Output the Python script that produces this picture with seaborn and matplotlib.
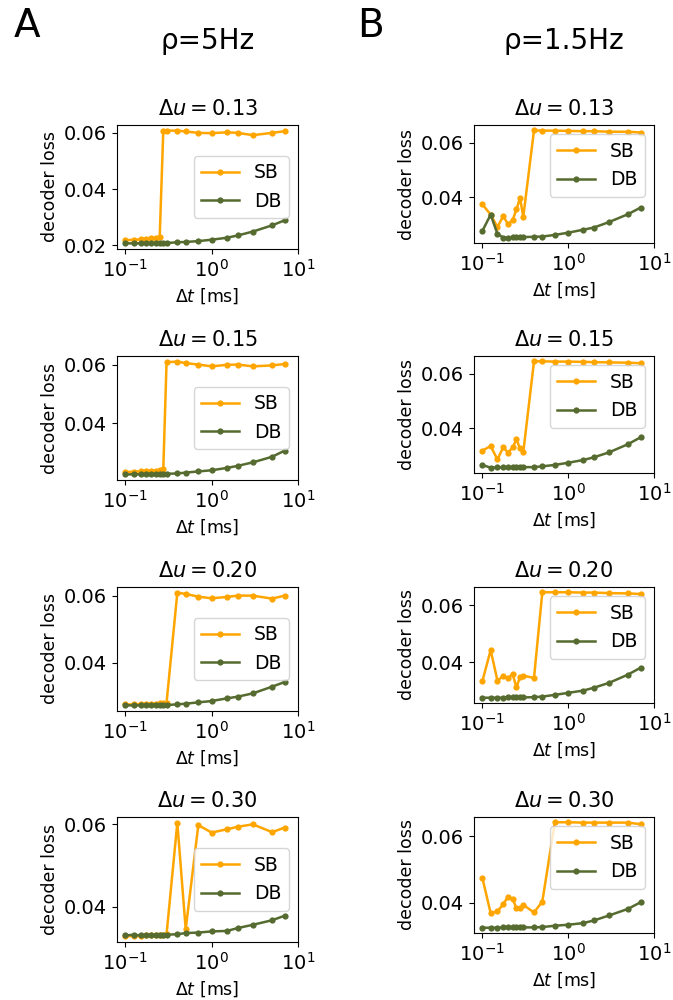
import numpy as np
import pandas as pd
import matplotlib
matplotlib.use("Agg")
from matplotlib import pyplot as plt
from matplotlib.ticker import MultipleLocator, NullLocator
import seaborn as sns

plt.rcParams["xtick.labelsize"] = 14
plt.rcParams["ytick.labelsize"] = 14
plt.rcParams["axes.labelsize"] = 12.5

# time steps (ms), shared by every panel
dt = [0.1, 0.125, 0.15, 0.175, 0.2, 0.225, 0.25, 0.275, 0.3,
      0.4, 0.5, 0.7, 1.0, 1.5, 2.0, 3.0, 5.0, 7.0]

du_labels = ["0.13", "0.15", "0.20", "0.30"]

# column A: rho = 5Hz
sb_a_013 = [0.0218, 0.0220, 0.0221, 0.0224, 0.0225, 0.0227, 0.0231, 0.0608, 0.0608,
            0.0608, 0.0605, 0.0600, 0.0599, 0.0602, 0.0600, 0.0592, 0.0600, 0.0606]
db_a_013 = [0.0207, 0.0207, 0.0207, 0.0207, 0.0208, 0.0208, 0.0208, 0.0208, 0.0208,
            0.0211, 0.0212, 0.0215, 0.0220, 0.0227, 0.0235, 0.0249, 0.0271, 0.0289]
sb_a_015 = [0.0234, 0.0235, 0.0236, 0.0237, 0.0238, 0.0239, 0.0241, 0.0243, 0.0609,
            0.0611, 0.0606, 0.0601, 0.0595, 0.0600, 0.0601, 0.0595, 0.0598, 0.0603]
db_a_015 = [0.0226, 0.0226, 0.0226, 0.0226, 0.0227, 0.0227, 0.0227, 0.0227, 0.0228,
            0.0229, 0.0232, 0.0236, 0.0240, 0.0248, 0.0255, 0.0267, 0.0286, 0.0307]
sb_a_020 = [0.0275, 0.0275, 0.0276, 0.0276, 0.0277, 0.0277, 0.0278, 0.0279, 0.0280,
            0.0610, 0.0606, 0.0598, 0.0593, 0.0597, 0.0601, 0.0601, 0.0592, 0.0601]
db_a_020 = [0.0272, 0.0272, 0.0272, 0.0272, 0.0273, 0.0273, 0.0273, 0.0273, 0.0273,
            0.0275, 0.0277, 0.0281, 0.0285, 0.0293, 0.0298, 0.0308, 0.0328, 0.0342]
sb_a_030 = [0.0328, 0.0329, 0.0329, 0.0330, 0.0330, 0.0331, 0.0332, 0.0332, 0.0333,
            0.0604, 0.0345, 0.0598, 0.0580, 0.0588, 0.0594, 0.0600, 0.0581, 0.0592]
db_a_030 = [0.0330, 0.0332, 0.0330, 0.0330, 0.0331, 0.0331, 0.0332, 0.0332, 0.0332,
            0.0333, 0.0336, 0.0337, 0.0340, 0.0341, 0.0348, 0.0356, 0.0367, 0.0378]

# column B: rho = 1.5Hz
sb_b_013 = [0.0375, 0.0337, 0.0292, 0.0331, 0.0302, 0.0317, 0.0356, 0.0398, 0.0329,
            0.0645, 0.0644, 0.0644, 0.0643, 0.0642, 0.0642, 0.0640, 0.0640, 0.0637]
db_b_013 = [0.0277, 0.0337, 0.0267, 0.0253, 0.0253, 0.0254, 0.0255, 0.0255, 0.0255,
            0.0256, 0.0257, 0.0263, 0.0271, 0.0282, 0.0290, 0.0310, 0.0339, 0.0363]
sb_b_015 = [0.0319, 0.0336, 0.0287, 0.0331, 0.0312, 0.0331, 0.0360, 0.0327, 0.0313,
            0.0645, 0.0645, 0.0644, 0.0644, 0.0643, 0.0642, 0.0641, 0.0640, 0.0638]
db_b_015 = [0.0267, 0.0257, 0.0258, 0.0258, 0.0258, 0.0259, 0.0259, 0.0259, 0.0259,
            0.0259, 0.0262, 0.0267, 0.0275, 0.0285, 0.0295, 0.0313, 0.0343, 0.0368]
sb_b_020 = [0.0334, 0.0443, 0.0337, 0.0352, 0.0346, 0.0360, 0.0313, 0.0350, 0.0354,
            0.0346, 0.0645, 0.0645, 0.0645, 0.0644, 0.0644, 0.0642, 0.0641, 0.0639]
db_b_020 = [0.0277, 0.0277, 0.0277, 0.0277, 0.0278, 0.0278, 0.0278, 0.0278, 0.0278,
            0.0279, 0.0281, 0.0287, 0.0294, 0.0302, 0.0312, 0.0329, 0.0358, 0.0382]
sb_b_030 = [0.0475, 0.0368, 0.0373, 0.0395, 0.0418, 0.0411, 0.0383, 0.0383, 0.0393,
            0.0370, 0.0403, 0.0642, 0.0642, 0.0641, 0.0641, 0.0641, 0.0641, 0.0636]
db_b_030 = [0.0324, 0.0324, 0.0324, 0.0325, 0.0325, 0.0325, 0.0325, 0.0325, 0.0325,
            0.0325, 0.0326, 0.0330, 0.0333, 0.0338, 0.0346, 0.0361, 0.0381, 0.0401]

col_a = [(sb_a_013, db_a_013), (sb_a_015, db_a_015), (sb_a_020, db_a_020), (sb_a_030, db_a_030)]
col_b = [(sb_b_013, db_b_013), (sb_b_015, db_b_015), (sb_b_020, db_b_020), (sb_b_030, db_b_030)]

W, H = 673, 1000
fig = plt.figure(figsize=(W / 100, H / 100), dpi=100)

# axes boxes in pixels
a_tops = [125, 356, 587, 817]
a_bottoms = [249, 480, 711, 942]
b_bottoms = [243, 473, 703, 933]


def make_axes(left, right, top, bottom):
    return fig.add_axes([left / W, 1 - bottom / H, (right - left) / W, (bottom - top) / H])


def draw_panel(ax, sb, db, du, loc):
    sns.lineplot(x=dt, y=sb, ax=ax, color="orange", marker="o", markersize=4.5,
                 markeredgewidth=0, linewidth=1.8, label="SB")
    sns.lineplot(x=dt, y=db, ax=ax, color="darkolivegreen", marker="o", markersize=4.5,
                 markeredgewidth=0, linewidth=1.8, label="DB")
    ax.set_xscale("log")
    ax.set_xlim(0.08, 10)
    ax.xaxis.set_minor_locator(NullLocator())
    ax.yaxis.set_major_locator(MultipleLocator(0.02))
    ax.set_title(r"$\Delta u = $" + r"$" + du + r"$", fontsize=15, pad=7)
    ax.set_xlabel(r"$\Delta t$ [ms]")
    ax.set_ylabel("decoder loss")
    ax.legend(loc=loc, fontsize=13.5)


for i in range(4):
    ax = make_axes(117, 298, a_tops[i], a_bottoms[i])
    draw_panel(ax, col_a[i][0], col_a[i][1], du_labels[i], "center right")
    ax = make_axes(474, 654, a_tops[i], b_bottoms[i])
    draw_panel(ax, col_b[i][0], col_b[i][1], du_labels[i], "upper right")

fig.text(14 / W, 1 - 37 / H, "A", fontsize=28, va="baseline", ha="left")
fig.text(357 / W, 1 - 37 / H, "B", fontsize=28, va="baseline", ha="left")
fig.text(208 / W, 1 - 49 / H, "ρ=5Hz", fontsize=20, va="baseline", ha="center")
fig.text(564 / W, 1 - 49 / H, "ρ=1.5Hz", fontsize=20, va="baseline", ha="center")

fig.savefig("out.png", dpi=100)
